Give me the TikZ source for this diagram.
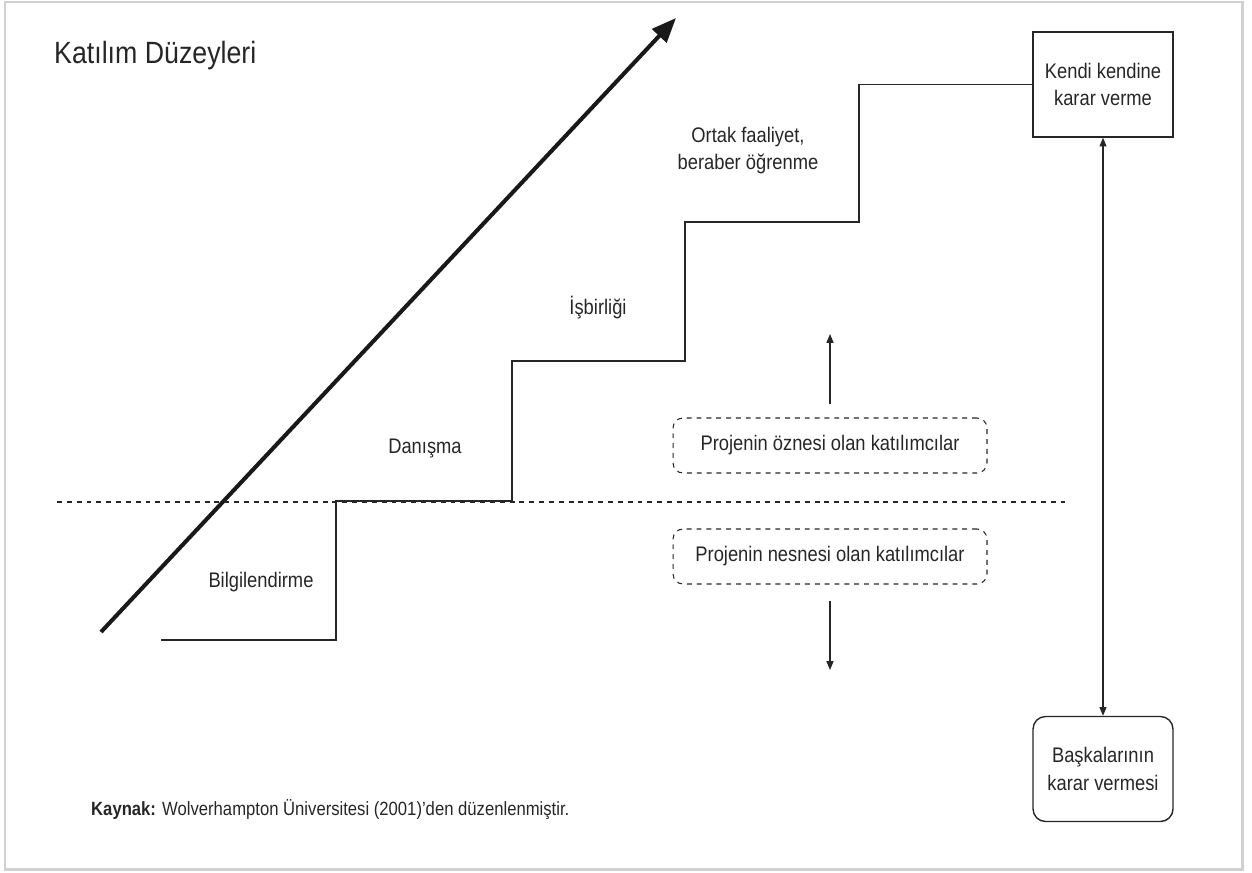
\documentclass[tikz,border=0pt]{standalone}
\usepackage{fontspec}
\setmainfont[FakeStretch=0.87]{Liberation Sans}
\usetikzlibrary{arrows.meta}

\begin{document}
\begin{tikzpicture}[x=0.02cm,y=-0.02cm]
\tikzstyle{every node}+=[font=\fontsize{12}{15.5}\selectfont, align=center, text=black!85]
\tikzstyle{stair}=[black!85, line width=0.8pt]
\tikzstyle{boks}=[draw=black!85, line width=0.8pt, minimum width=2.8cm, minimum height=2.1cm]
\tikzstyle{grup}=[draw=black!85, line width=0.6pt, dash pattern=on 2.8pt off 2.8pt, rounded corners=0.2cm, minimum width=6.28cm, minimum height=1.1cm]
\tikzstyle{ok}=[black!85, line width=0.6pt, -{Triangle[length=5pt,width=4pt]}]
\useasboundingbox (0,0) rectangle (1252,873);
\draw [black!18, line width=1.7pt] (5,2) rectangle (1242,869);
\node [anchor=base west, font=\fontsize{17.5}{21}\selectfont] (baslik) at (48,63) {Katılım Düzeyleri};
\coordinate (okalt) at (101,632);
\coordinate (okust) at (676,18);
\draw [black!90, line width=2.3pt, -{Triangle[length=14pt,width=11pt]}] (okalt) -- (okust);
\node [boks] (kendi) at (1103,84.5) {Kendi kendine\\karar verme};
\node [boks, rounded corners=0.25cm] (baska) at (1103,769) {Başkalarının\\karar vermesi};
\draw [ok, {Triangle[length=5pt,width=4pt]}-{Triangle[length=5pt,width=4pt]}] (kendi) -- (baska);
\draw [stair] (161,640) -- (336,640) -- (336,501) -- (512,501) -- (512,361) -- (685,361) -- (685,222) -- (859,222) -- (859,84.5) -- (kendi.west);
\coordinate (kesikbas) at (57,502);
\coordinate (kesikson) at (1066,502);
\draw [black!85, line width=0.7pt, dash pattern=on 2.8pt off 2.8pt] (kesikbas) -- (kesikson);
\node [grup] (ozne) at (830,445.5) {Projenin öznesi olan katılımcılar};
\node [grup] (nesne) at (830,556.5) {Projenin nesnesi olan katılımcılar};
\coordinate (yukari) at (830,334);
\coordinate (asagi) at (830,670);
\draw [ok] ([yshift=0.26cm]ozne.north) -- (yukari);
\draw [ok] ([yshift=-0.32cm]nesne.south) -- (asagi);
\node [anchor=base] (bilgi) at (261,587) {Bilgilendirme};
\node [anchor=base] (danisma) at (425,453) {Danışma};
\node [anchor=base] (isbirligi) at (598,314) {İşbirliği};
\node [anchor=base] (ortak) at (748,142) {Ortak faaliyet,};
\node [anchor=base] (ogrenme) at (748,169) {beraber öğrenme};
\node [anchor=base west, font=\fontsize{10.9}{13}\selectfont] (kaynak) at (85,815) {\textbf{Kaynak:} Wolverhampton Üniversitesi (2001)’den düzenlenmiştir.};
\end{tikzpicture}
\end{document}
